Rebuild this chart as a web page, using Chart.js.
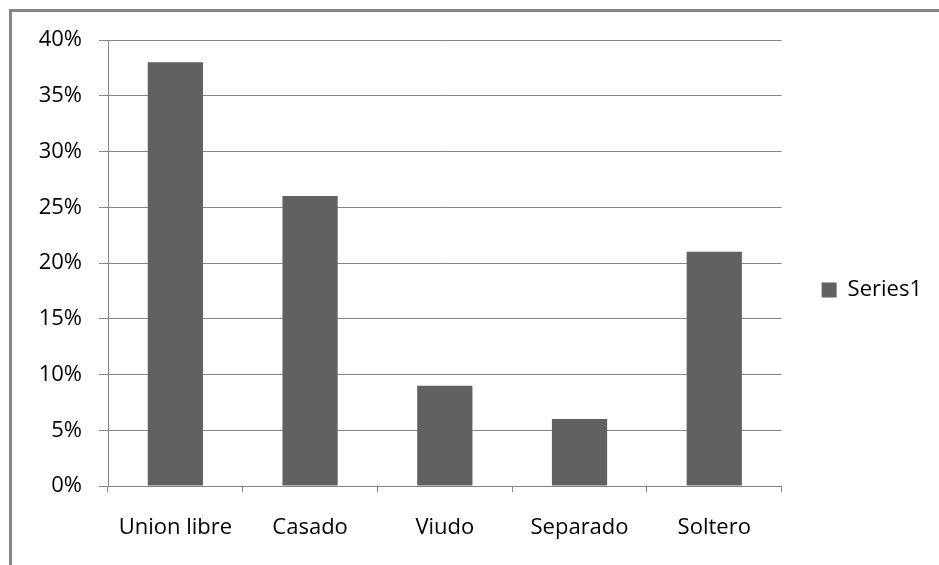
<!DOCTYPE html>
<html>
<head>
  <title>Estado civil</title>
  <script src="https://cdn.jsdelivr.net/npm/chart.js"></script>
  <style>
    body { margin: 0; background: #fff; }
    #wrap { position: relative; width: 939px; height: 565px; }
    #frame { position: absolute; left: 9px; top: 9px; right: 0; bottom: 0;
             border-top: 3px solid #868686; border-left: 3px solid #868686; pointer-events: none; }
  </style>
</head>
<body>
  <div id="wrap">
    <canvas id="chart" width="939" height="565"></canvas>
    <div id="frame"></div>
  </div>
  <script>
    const categories = ['Union libre', 'Casado', 'Viudo', 'Separado', 'Soltero'];
    const series1 = [0.38, 0.26, 0.09, 0.06, 0.21];
    const seriesName = 'Series1';

    const FONT = { family: 'Open Sans', size: 22 };
    const GRID = '#868686';
    const BAR = '#616161';

    const chart = new Chart(document.getElementById('chart'), {
      type: 'bar',
      data: {
        labels: categories,
        datasets: [{
          label: seriesName,
          data: series1,
          backgroundColor: BAR,
          borderWidth: 0,
          barPercentage: 0.41,
          categoryPercentage: 1
        }]
      },
      options: {
        responsive: false,
        animation: false,
        layout: { padding: { top: 40, right: 7, bottom: 25, left: 0 } },
        plugins: {
          tooltip: { enabled: false },
          legend: {
            position: 'right',
            // wide label padding leaves the gap between plot edge and legend box
            labels: { color: '#000', font: FONT, boxWidth: 15, boxHeight: 15, padding: 40 }
          }
        },
        scales: {
          x: {
            offset: true,
            grid: { display: true, drawOnChartArea: false, drawTicks: true, tickLength: 6, color: GRID, offset: true },
            border: { color: GRID, width: 1 },
            ticks: { color: '#000', font: FONT, padding: 23, maxRotation: 0 },
            afterFit: (s) => { s.height = 54; }
          },
          y: {
            min: 0,
            max: 0.4,
            grid: { color: GRID, tickLength: 9 },
            border: { color: GRID, width: 1 },
            ticks: {
              stepSize: 0.05,
              color: '#000',
              font: FONT,
              padding: 17,
              callback: (v) => Math.round(v * 100) + '%'
            },
            afterFit: (s) => { s.width = 108; }
          }
        }
      }
    });
  </script>
</body>
</html>
